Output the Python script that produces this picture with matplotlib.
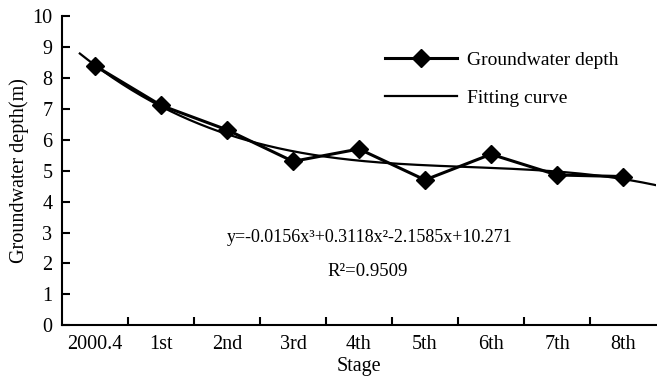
import numpy as np
import matplotlib
matplotlib.use("Agg")
import matplotlib.pyplot as plt

categories = ["2000.4", "1st", "2nd", "3rd", "4th", "5th", "6th", "7th", "8th"]
depth = [8.39, 7.11, 6.32, 5.30, 5.70, 4.70, 5.53, 4.86, 4.81]
fit_coef = [-0.0156, 0.3118, -2.1585, 10.271]  # cubic, from the chart's equation
fit_range = [0.77, 9.5]
yticks = list(range(0, 11))

plt.rcParams['font.family'] = ['Liberation Serif', 'DejaVu Serif']

fig = plt.figure(figsize=(6.57, 3.76), dpi=100)
W, H = 657, 376
ax = fig.add_axes([62 / W, 1 - 325.3 / H, (656 - 62) / W, (325.3 - 16) / H])

xpos = np.arange(1, len(categories) + 1)
xf = np.linspace(fit_range[0], fit_range[1], 300)
yf = np.polyval(fit_coef, xf)

ax.plot(xpos, depth, color='black', lw=2.2, marker='D', markersize=9,
        label='Groundwater depth', zorder=3)
ax.plot(xf, yf, color='black', lw=1.6, label='Fitting curve', zorder=2)

ax.set_xlim(0.5, len(categories) + 0.5)
ax.set_ylim(0, 10)

for s in ['top', 'right']:
    ax.spines[s].set_visible(False)
for s in ['left', 'bottom']:
    ax.spines[s].set_linewidth(1.5)
    ax.spines[s].set_color('black')

ax.set_yticks(yticks)
ax.set_yticklabels([str(v) for v in yticks])
ax.set_xticks(np.arange(1.5, len(categories) + 0.5, 1.0))
ax.set_xticklabels([])
ax.set_xticks(xpos, minor=True)
ax.set_xticklabels(categories, minor=True)
ax.tick_params(axis='x', which='major', direction='in', length=6, width=1.5)
ax.tick_params(axis='x', which='minor', length=0, pad=7, labelsize=14.5)
ax.tick_params(axis='y', direction='in', length=6, width=1.5, pad=7, labelsize=14.5)

ax.set_xlabel('Stage', fontsize=14.5, labelpad=2.5)
ax.set_ylabel('Groundwater depth(m)', fontsize=14.5, labelpad=2)

ax.text(370 / W, 1 - 238 / H, 'y=-0.0156x³+0.3118x²-2.1585x+10.271',
        transform=fig.transFigure, ha='center', va='center', fontsize=13)
ax.text(368 / W, 1 - 271 / H, 'R²=0.9509',
        transform=fig.transFigure, ha='center', va='center', fontsize=13.5)

fig.legend(loc='upper left', bbox_to_anchor=(385 / W, 1 - 51 / H),
           frameon=False, fontsize=14, handlelength=3.7, handletextpad=0.5,
           labelspacing=1.05, borderpad=0, borderaxespad=0)

fig.savefig('out.png', dpi=100)
